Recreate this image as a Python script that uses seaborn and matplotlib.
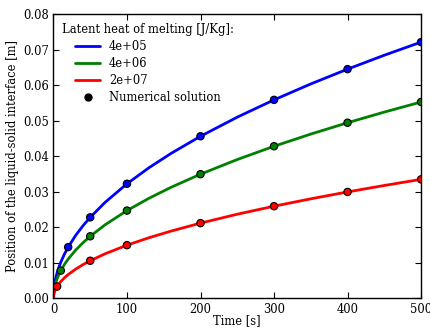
import numpy as np
import pandas as pd
import matplotlib
matplotlib.use('Agg')
import matplotlib.pyplot as plt
from matplotlib.lines import Line2D
import seaborn as sns

# Estilo clássico: fundo branco, ticks para dentro, fonte serifada
sns.set_style('ticks')
plt.rcParams['font.family'] = ['DejaVu Serif']
plt.rcParams['mathtext.fontset'] = 'dejavuserif'
plt.rcParams['xtick.direction'] = 'in'
plt.rcParams['ytick.direction'] = 'in'
plt.rcParams['xtick.top'] = True
plt.rcParams['ytick.right'] = True
plt.rcParams['text.color'] = 'black'
plt.rcParams['axes.labelcolor'] = 'black'
plt.rcParams['xtick.color'] = 'black'
plt.rcParams['ytick.color'] = 'black'

# Curvas analíticas
tempo_curva = [0, 0.25, 0.5, 1, 2, 3, 5, 7, 10, 15, 20, 30, 40, 50, 70, 100,
               130, 160, 200, 250, 300, 350, 400, 450, 500]
pos_4e5 = [0, 0.00162, 0.00228, 0.00323, 0.00457, 0.00559, 0.00722, 0.00855,
           0.01021, 0.01251, 0.01445, 0.01769, 0.02043, 0.02284, 0.02702,
           0.0323, 0.03683, 0.04086, 0.04568, 0.05107, 0.05594, 0.06043,
           0.0646, 0.06852, 0.07222]
pos_4e6 = [0, 0.00124, 0.00175, 0.00248, 0.0035, 0.00429, 0.00553, 0.00655,
           0.00783, 0.00959, 0.01107, 0.01356, 0.01565, 0.0175, 0.02071,
           0.02475, 0.02822, 0.03131, 0.035, 0.03913, 0.04287, 0.0463,
           0.0495, 0.0525, 0.05534]
pos_2e7 = [0, 0.00075, 0.00106, 0.0015, 0.00212, 0.0026, 0.00335, 0.00397,
           0.00474, 0.00581, 0.00671, 0.00822, 0.00949, 0.01061, 0.01255,
           0.015, 0.0171, 0.01897, 0.02121, 0.02372, 0.02598, 0.02806,
           0.03, 0.03182, 0.03354]

# Solução numérica (pontos)
tempo_num_4e5 = [20, 50, 100, 200, 300, 400, 500]
num_4e5 = [0.01445, 0.02284, 0.0323, 0.04568, 0.05594, 0.0646, 0.07222]
tempo_num_4e6 = [10, 50, 100, 200, 300, 400, 500]
num_4e6 = [0.00783, 0.0175, 0.02475, 0.035, 0.04287, 0.0495, 0.05534]
tempo_num_2e7 = [5, 50, 100, 200, 300, 400, 500]
num_2e7 = [0.00335, 0.01061, 0.015, 0.02121, 0.02598, 0.03, 0.03354]

rotulos = ['4e+05', '4e+06', '2e+07']
cores = ['#0000ff', '#008000', '#ff0000']

curvas = pd.concat([
    pd.DataFrame({'t': tempo_curva, 'x': pos_4e5, 'L': rotulos[0]}),
    pd.DataFrame({'t': tempo_curva, 'x': pos_4e6, 'L': rotulos[1]}),
    pd.DataFrame({'t': tempo_curva, 'x': pos_2e7, 'L': rotulos[2]}),
])
pontos = pd.concat([
    pd.DataFrame({'t': tempo_num_4e5, 'x': num_4e5, 'L': rotulos[0]}),
    pd.DataFrame({'t': tempo_num_4e6, 'x': num_4e6, 'L': rotulos[1]}),
    pd.DataFrame({'t': tempo_num_2e7, 'x': num_2e7, 'L': rotulos[2]}),
])

fs = 8.3

fig, ax = plt.subplots(figsize=(4.31, 3.29), dpi=100)
fig.subplots_adjust(left=0.124, right=0.977, top=0.956, bottom=0.093)

sns.lineplot(data=curvas, x='t', y='x', hue='L', palette=cores, linewidth=2,
             ax=ax, legend=False, sort=False)
sns.scatterplot(data=pontos, x='t', y='x', hue='L', palette=cores, s=28,
                edgecolor='black', linewidth=0.8, ax=ax, legend=False, zorder=3)

ax.set_xlim(0, 500)
ax.set_ylim(0, 0.08)
ax.set_xticks([0, 100, 200, 300, 400, 500])
ax.set_yticks(np.arange(0, 0.081, 0.01))
ax.set_yticklabels([f'{v:.2f}' for v in np.arange(0, 0.081, 0.01)])
ax.tick_params(labelsize=fs, length=4, width=0.8, pad=3)
ax.set_xlabel('Time [s]', fontsize=fs, labelpad=-1)
ax.set_ylabel('Position of the liquid-solid interface [m]', fontsize=fs, labelpad=3)
for s in ax.spines.values():
    s.set_linewidth(1.0)
    s.set_color('black')

handles = [Line2D([0], [0], color=c, lw=2) for c in cores]
handles.append(Line2D([0], [0], marker='o', color='black', lw=0,
                      markersize=5))
ax.legend(handles, rotulos + ['Numerical solution'],
          title='Latent heat of melting [J/Kg]:', loc='upper left',
          frameon=False, fontsize=fs, title_fontsize=fs,
          handlelength=2.1, handletextpad=0.8, labelspacing=0.35,
          borderaxespad=0.35)

plt.savefig('out.png', dpi=100)
plt.close()
